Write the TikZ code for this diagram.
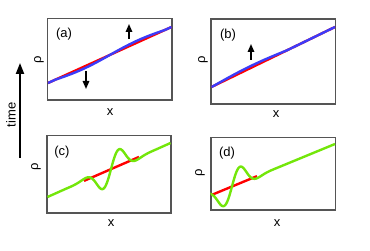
\documentclass[tikz,border=0pt]{standalone}
\usepackage{fontspec}
\setmainfont{Liberation Sans}
\usetikzlibrary{arrows.meta}
\definecolor{myred}{RGB}{255,0,0}
\definecolor{myblue}{RGB}{60,60,250}
\definecolor{mygreen}{RGB}{115,230,10}
\definecolor{boxgray}{RGB}{85,85,85}
\begin{document}
\begin{tikzpicture}[x=1pt,y=-1pt,
  panel/.style={draw=boxgray,line width=1.1pt},
  lbl/.style={font=\fontsize{13}{15}\selectfont,inner sep=0pt},
  curve/.style={line width=2.4pt},
  bigarrow/.style={line width=2pt,-{Triangle[length=11pt,width=8pt]}},
  smallarrow/.style={line width=1.6pt,-{Triangle[length=8pt,width=6.5pt]}}]
\useasboundingbox (0,0) rectangle (370,251);
% boxes
\draw[panel] (47.5,18.5) rectangle (172,100);
\draw[panel] (211,19) rectangle (335.5,104);
\draw[panel] (47,135.5) rectangle (171,213);
\draw[panel] (211,137.5) rectangle (335.5,210);
% (a)
\draw[curve,myred] (48,83) -- (171.5,27);
\draw[curve,myblue] (48,83) -- (55,{83-7*56/123.5})
  -- plot[domain=55:165,samples=60] (\x,{83-(\x-48)*56/123.5+1.9*sin((\x-55)/110*360)})
  -- (171.5,27);
\draw[smallarrow] (86,71) -- (86,89);
\draw[smallarrow] (129,39) -- (129,24);
% (b)
\draw[curve,myred] (211.5,87) -- (335,27);
\draw[curve,myblue] (211.5,87) -- (213,{87-1.5*60/123.5})
  -- plot[domain=213:287,samples=50] (\x,{87-(\x-211.5)*60/123.5-1.9*sin((\x-213)/74*180)})
  -- (335,27);
\draw[smallarrow] (251,60) -- (251,44);
% (c)
\draw[curve,myred] (84,{197-37*0.4355}) -- (139,{197-92*0.4355});
\draw[curve,mygreen] (47.5,197) -- (66,{197-19*0.4355})
  -- plot[domain=66:156,samples=110] (\x,{197-(\x-47)*0.4355-21*sin(9*(\x-111))*exp(-(\x-111)*(\x-111)/320)})
  -- (170.5,143);
% (d)
\draw[curve,myred] (211.5,195) -- (257,{195-46*0.41});
\draw[curve,mygreen] (211.5,{195-21*sin(-184.5)*exp(-420.25/320)})
  -- plot[domain=211.5:277,samples=110] (\x,{195-(\x-211)*0.41-21*sin(9*(\x-232))*exp(-(\x-232)*(\x-232)/320)})
  -- (335,144);
% labels
\node[lbl] (la) at (64,34) {(a)};
\node[lbl] (lb) at (228,35) {(b)};
\node[lbl] (lc) at (62,152) {(c)};
\node[lbl] (ld) at (227,153) {(d)};
\node[lbl,rotate=90] (ra) at (39,60) {ρ};
\node[lbl,rotate=90] (rb) at (203,60) {ρ};
\node[lbl,rotate=90] (rc) at (36,167) {ρ};
\node[lbl,rotate=90] (rd) at (200,173) {ρ};
\node[lbl] (xa) at (110,112) {x};
\node[lbl] (xb) at (276,114) {x};
\node[lbl] (xc) at (111,223) {x};
\node[lbl] (xd) at (277,223) {x};
% time arrow
\coordinate (t0) at (20,158);
\coordinate (t1) at (20,63);
\draw[bigarrow] (t0) -- (t1);
\node[lbl,rotate=90] (time) at (11,115) {time};
\end{tikzpicture}
\end{document}
